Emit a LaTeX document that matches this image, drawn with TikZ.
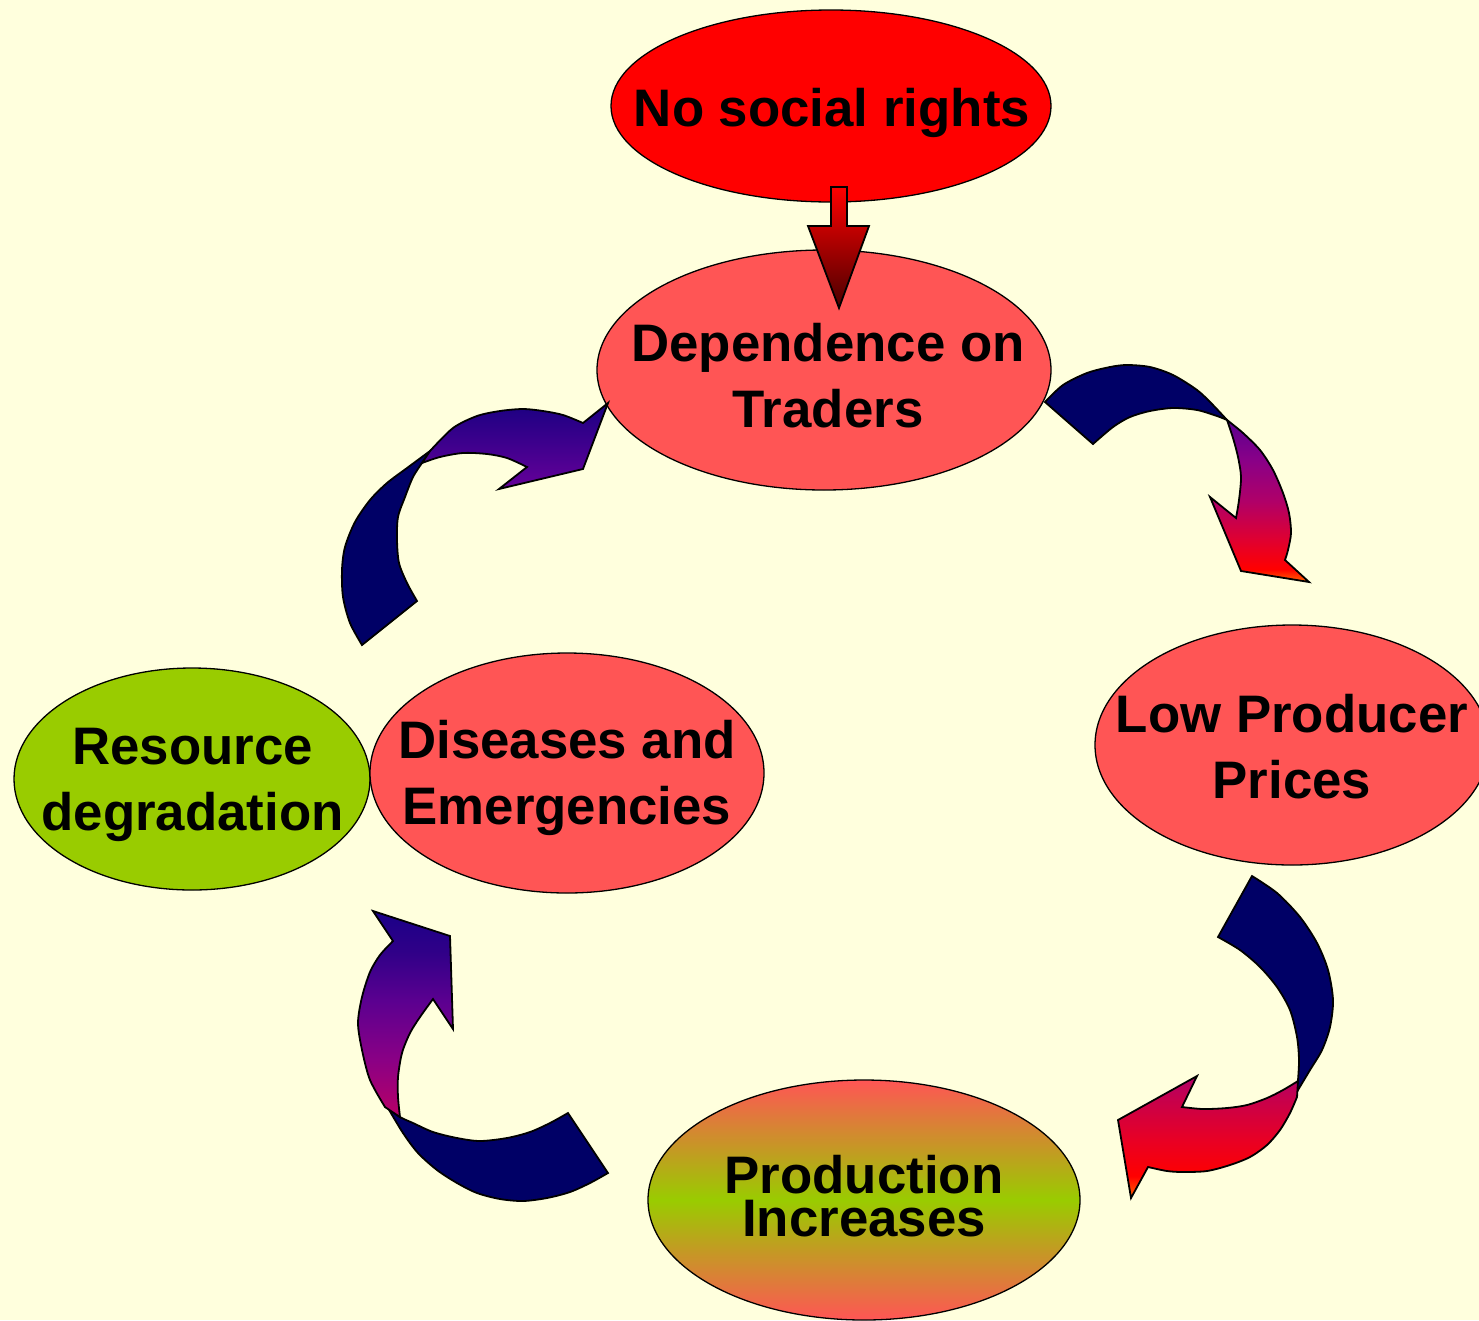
\documentclass[tikz,border=0pt]{standalone}
\usepackage{fontspec}
\setmainfont{Liberation Sans}
\usetikzlibrary{shapes.geometric}
\definecolor{bgc}{HTML}{FFFFDD}
\definecolor{salmon}{HTML}{FF5555}
\definecolor{lime}{HTML}{99CC00}
\definecolor{navyc}{HTML}{000066}
\definecolor{darkred}{HTML}{4A0000}
\definecolor{orA}{HTML}{FF6600}
\definecolor{cA1}{HTML}{E00030}
\definecolor{cA2}{HTML}{B00068}
\definecolor{cA3}{HTML}{880088}
\definecolor{cA4}{HTML}{5A0090}
\definecolor{cB1}{HTML}{E80025}
\definecolor{cB2}{HTML}{C8004A}
\definecolor{cB3}{HTML}{B00068}
\definecolor{cC0}{HTML}{B80066}
\definecolor{cC1}{HTML}{8A0085}
\definecolor{cC2}{HTML}{5C0090}
\definecolor{cC3}{HTML}{300088}
\definecolor{cC4}{HTML}{1A0088}
\definecolor{cD0}{HTML}{660099}
\definecolor{cD1}{HTML}{1A0082}
\pgfdeclareverticalshading{shA}{100bp}{color(0bp)=(orA); color(25bp)=(orA); color(29bp)=(red); color(38bp)=(cA1); color(50bp)=(cA2); color(63bp)=(cA3); color(75bp)=(cA4); color(100bp)=(cA4)}
\pgfdeclareverticalshading{shB}{100bp}{color(0bp)=(orA); color(25bp)=(orA); color(34bp)=(red); color(49bp)=(cB1); color(65bp)=(cB2); color(75bp)=(cB3); color(100bp)=(cB3)}
\pgfdeclareverticalshading{shC}{100bp}{color(0bp)=(cC0); color(25bp)=(cC0); color(39bp)=(cC1); color(53bp)=(cC2); color(65bp)=(cC3); color(75bp)=(cC4); color(100bp)=(cC4)}
\begin{document}
\begin{tikzpicture}[x=1pt,y=-1pt,
  ell/.style={ellipse, draw=black, line width=1.3pt, inner sep=0pt},
  txt/.style={font={\fontsize{52.8}{66}\selectfont\bfseries}, align=center, inner sep=0pt, text=black},
  navyfill/.style={fill=navyc, draw=black, line width=1.8pt},
  gradfill/.style={draw=black, line width=1.8pt}]
\fill[bgc] (0,0) rectangle (1479,1320);
\useasboundingbox (0,0) rectangle (1479,1320);

% ellipses
\node[ell, fill=red, minimum width=440pt, minimum height=192pt] (nsr) at (831,106) {};
\node[ell, fill=salmon, minimum width=454pt, minimum height=240pt] (dep) at (824,370) {};
\node[ell, fill=salmon, minimum width=394pt, minimum height=240pt] (low) at (1292,745) {};
\node[ell, fill=lime, minimum width=356pt, minimum height=222pt] (res) at (192,779) {};
\node[ell, fill=salmon, minimum width=394pt, minimum height=240pt] (dis) at (567,773) {};
\node[ell, top color=salmon, bottom color=salmon, middle color=lime, minimum width=432pt, minimum height=240pt] (pro) at (864,1200) {};

% texts
\node[txt, anchor=base] (nsr-t) at (832,126.7) {No social rights};
\node[txt] (dep-t) at (828,375.6) {Dependence on\\Traders};
\node[txt] (low-t) at (1292,746.7) {Low Producer\\Prices};
\node[txt] (res-t) at (192.5,785) {Resource\\degradation};
\node[txt] (dis-t) at (567,778) {Diseases and\\Emergencies};
\node[txt, font={\fontsize{52.8}{43.5}\selectfont\bfseries}] (pro-t) at (864,1196.3) {Production\\Increases};

% arrow 1: dep -> low
\path[navyfill] plot[smooth] coordinates {(1045,402) (1063,385) (1087,373) (1110,367) (1127,365) (1150,367) (1173,375) (1197,390) (1212,404) (1227,420)}
  -- plot[smooth] coordinates {(1227,420) (1217,416) (1197,410) (1173,408) (1150,411) (1130,417) (1113,427) (1093,444)} -- cycle;
\path[gradfill, shading=shA] plot[smooth] coordinates {(1227,420) (1243,433) (1260,450) (1273,470) (1283,493) (1289,513) (1291,533) (1288,550) (1285,560)}
  -- (1309,582) -- (1241,571) -- (1210,497) --
  plot[smooth] coordinates {(1236,518) (1239,500) (1241,477) (1238,457) (1233,438) (1227,420)} -- cycle;

% arrow 2: low -> pro
\path[navyfill] plot[smooth] coordinates {(1252,876) (1277,893) (1300,917) (1317,943) (1328,970) (1333,1000) (1330,1027) (1322,1050) (1310,1070) (1295,1095)}
  -- plot[smooth] coordinates {(1298,1080) (1299,1060) (1297,1037) (1290,1010) (1277,987) (1260,967) (1240,950) (1218,937)} -- cycle;
\path[gradfill, shading=shB] plot[smooth] coordinates {(1298,1081) (1283,1090) (1267,1098) (1247,1105) (1227,1108) (1203,1109) (1182,1107)}
  -- (1197,1076) -- (1118,1120) -- (1131,1198) --
  plot[smooth] coordinates {(1148,1167) (1167,1171) (1183,1172) (1207,1171) (1230,1165) (1250,1157) (1267,1145) (1280,1130) (1290,1113) (1297,1097)} -- cycle;

% arrow 3: pro -> dis
\path[navyfill] (568,1113) -- plot[smooth] coordinates {(608,1173) (590,1183) (570,1192) (547,1198) (523,1201) (500,1199) (477,1193) (457,1183) (437,1170) (418,1153) (403,1133) (388,1108)}
  -- plot[smooth] coordinates {(388,1108) (400,1117) (413,1123) (433,1132) (457,1138) (480,1141) (507,1138) (530,1132) (550,1123) (568,1113)} -- cycle;
\path[gradfill, shading=shC] plot[smooth] coordinates {(400,1117) (398,1097) (398,1077) (402,1053) (410,1033) (420,1017) (433,999)}
  -- (453,1029) -- (450,936) -- (373,911) --
  plot[smooth] coordinates {(393,941) (380,955) (370,972) (362,997) (358,1023) (362,1050) (370,1080) (385,1107)} -- cycle;

% arrow 4: res -> dep
\path[navyfill] plot[smooth] coordinates {(362,645) (350,623) (343,597) (342,570) (345,547) (355,522) (370,500) (387,483) (407,468) (430,451)}
  -- plot[smooth] coordinates {(422,463) (413,477) (405,497) (398,517) (397,540) (399,563) (407,583) (417,601)} -- cycle;
\path[gradfill, top color=cD1, bottom color=cD0] plot[smooth] coordinates {(422,463) (440,457) (463,453) (487,454) (507,458) (527,467)}
  -- (499,489) -- (583,469) -- (608,403) --
  plot[smooth] coordinates {(583,423) (563,415) (543,411) (523,409) (500,411) (477,416) (453,428) (430,451)} -- cycle;

% straight arrow: nsr -> dep
\path[draw=black, line width=1.8pt, top color=red, bottom color=darkred] (831,187) -- (847,187) -- (847,226) -- (869,226) -- (839,308) -- (808,226) -- (831,226) -- cycle;
\end{tikzpicture}
\end{document}
